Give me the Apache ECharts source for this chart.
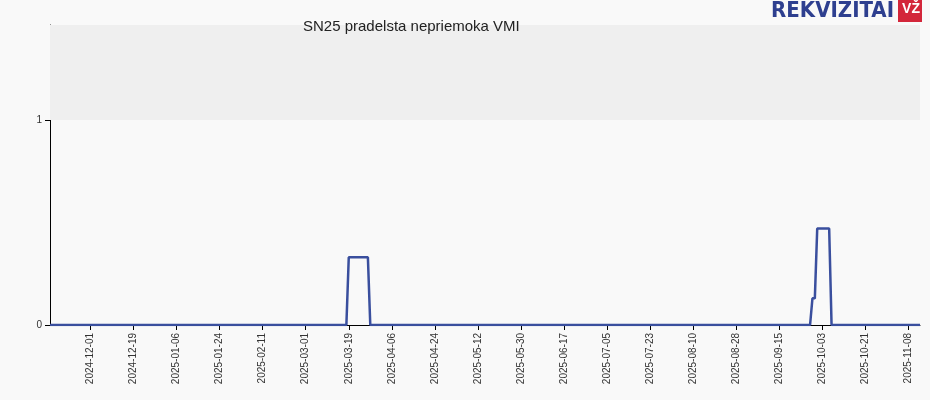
<!DOCTYPE html>
<html><head><meta charset="utf-8">
<script src="https://cdn.jsdelivr.net/npm/echarts@6/dist/echarts.min.js"></script>
<style>html,body{margin:0;padding:0;background:#f9f9f9}#c{width:930px;height:400px}</style>
</head><body><div id="c"></div>
<script>
const startDate = '2024-11-14';
const endDate = '2025-11-13';
const eventDates = ['2025-03-19','2025-03-20','2025-03-21','2025-03-22','2025-03-23','2025-03-24','2025-03-25','2025-03-26','2025-03-27',
  '2025-09-29','2025-09-30','2025-10-01','2025-10-02','2025-10-03','2025-10-04','2025-10-05','2025-10-06'];
const eventValues = [0.33,0.33,0.33,0.33,0.33,0.33,0.33,0.33,0.33,
  0.13,0.13,0.47,0.47,0.47,0.47,0.47,0.47];
const firstLabel = '2024-12-01';
const labelStep = 18;
const yTicks = [0, 1];

function fmt(d){return d.toISOString().slice(0,10);}
const categories = [];
for (let d = new Date(startDate+'T00:00:00Z'); fmt(d) <= endDate; d.setUTCDate(d.getUTCDate()+1)) categories.push(fmt(d));
const values = categories.map(c => { const i = eventDates.indexOf(c); return i >= 0 ? eventValues[i] : 0; });
const off = categories.indexOf(firstLabel);
const show = (i) => i >= off && (i - off) % labelStep === 0;

const chart = echarts.init(document.getElementById('c'));
chart.setOption({
  backgroundColor: '#f9f9f9',
  animation: false,
  title: { text: 'SN25 pradelsta nepriemoka VMI', left: 298, top: 14,
    textStyle: { fontFamily: 'Arial, Liberation Sans', fontSize: 15, fontWeight: 'normal', color: '#222' } },
  graphic: [
    { type: 'text', right: 36, top: 0, style: { text: 'REKVIZITAI', font: 'bold 22px "DejaVu Sans Condensed", Arial', fill: '#2e3f8f' } },
    { type: 'rect', right: 8, top: 0, shape: { width: 24, height: 22 }, style: { fill: '#d3263a' } },
    { type: 'text', right: 10, top: 2, style: { text: 'VŽ', font: 'bold 14px Arial', fill: '#fff' } }
  ],
  grid: { left: 50, right: 10, top: 25, bottom: 75 },
  xAxis: {
    type: 'category', data: categories, boundaryGap: false,
    axisLine: { lineStyle: { color: '#000' } },
    axisTick: { interval: (i) => show(i), lineStyle: { color: '#000' } },
    axisLabel: { interval: (i) => show(i), rotate: 90, fontSize: 10, color: '#333', fontFamily: 'Arial, Liberation Sans' }
  },
  yAxis: {
    type: 'value', min: 0, max: 1.463,
    axisLine: { show: true, lineStyle: { color: '#000' } },
    axisTick: { show: true, customValues: yTicks, lineStyle: { color: '#000' } },
    splitLine: { show: false },
    axisLabel: { fontSize: 10, color: '#333', customValues: yTicks }
  },
  series: [{
    type: 'line', data: values, showSymbol: false, symbol: 'none',
    lineStyle: { color: '#3a4f9e', width: 2.5 },
    markArea: { silent: true, itemStyle: { color: '#efefef' }, data: [[{ yAxis: 1 }, { yAxis: 1.463 }]] }
  }]
});
</script></body></html>
